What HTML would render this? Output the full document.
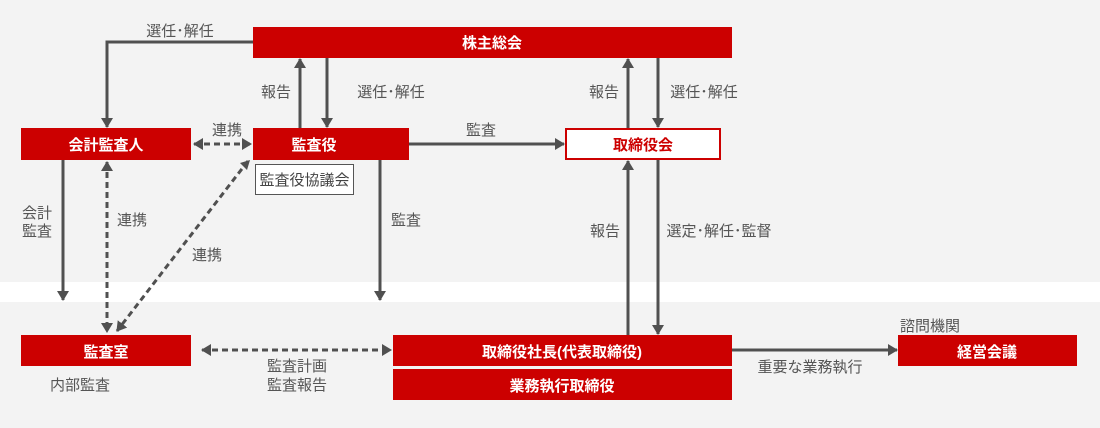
<!DOCTYPE html>
<html><head><meta charset="utf-8"><style>
html,body{margin:0;padding:0;background:#fff}
svg{display:block}
text{font-family:"Liberation Sans","Noto Sans CJK JP",sans-serif;font-size:15px;fill:#555}
.w{fill:#fff;font-weight:bold;font-size:15px}
</style></head><body>
<svg width="1100" height="428" viewBox="0 0 1100 428" xmlns="http://www.w3.org/2000/svg">
<defs>
<marker id="a" markerWidth="10" markerHeight="12" refX="9" refY="6" orient="auto" markerUnits="userSpaceOnUse"><path d="M0,0 L10,6 L0,12 z" fill="#505050"/></marker>
<marker id="s" markerWidth="10" markerHeight="12" refX="1" refY="6" orient="auto" markerUnits="userSpaceOnUse"><path d="M10,0 L0,6 L10,12 z" fill="#505050"/></marker>
</defs>
<rect x="0" y="0" width="1100" height="282" fill="#f3f3f3"/>
<rect x="0" y="302" width="1100" height="126" fill="#f3f3f3"/>
<g stroke="#505050" stroke-width="3" fill="none">
<path d="M253,42 H107 V127" marker-end="url(#a)"/>
<path d="M300,128 V59" marker-end="url(#a)"/>
<path d="M327,58 V127" marker-end="url(#a)"/>
<path d="M628,128 V59" marker-end="url(#a)"/>
<path d="M658,58 V127" marker-end="url(#a)"/>
<path d="M409,144 H564" marker-end="url(#a)"/>
<path d="M63,160 V300" marker-end="url(#a)"/>
<path d="M380,160 V300" marker-end="url(#a)"/>
<path d="M628,335 V161" marker-end="url(#a)"/>
<path d="M658,160 V334" marker-end="url(#a)"/>
<path d="M732,350 H897" marker-end="url(#a)"/>
<g stroke-dasharray="6,4">
<path d="M194,144 H251" marker-start="url(#s)" marker-end="url(#a)"/>
<path d="M107,162 V332" marker-start="url(#s)" marker-end="url(#a)"/>
<path d="M248,161 L117,331" marker-end="url(#a)"/>
<path d="M202,350 H391" marker-start="url(#s)" marker-end="url(#a)"/>
</g>
</g>
<path d="M250,160 L240,163 L247,170 z" fill="#505050"/>
<rect x="253" y="27" width="479" height="31" fill="#cc0000"/>
<text x="492" y="48" class="w" text-anchor="middle">株主総会</text>
<rect x="21" y="128" width="170" height="32" fill="#cc0000"/>
<text x="106" y="150" class="w" text-anchor="middle">会計監査人</text>
<rect x="253" y="128" width="156" height="32" fill="#cc0000"/>
<text x="314" y="150" class="w" text-anchor="middle">監査役</text>
<rect x="255.5" y="164.5" width="98" height="30" fill="#fff" stroke="#555" stroke-width="1"/>
<text x="304.5" y="185" text-anchor="middle" style="font-size:15px;fill:#444">監査役協議会</text>
<rect x="566" y="129" width="154" height="30" fill="#fff" stroke="#cc0000" stroke-width="2"/>
<text x="643" y="150" text-anchor="middle" style="fill:#cc0000;font-weight:bold">取締役会</text>
<rect x="21" y="335" width="170" height="31" fill="#cc0000"/>
<text x="106" y="357" class="w" text-anchor="middle">監査室</text>
<rect x="393" y="335" width="339" height="31" fill="#cc0000"/>
<text x="562" y="357" class="w" text-anchor="middle">取締役社長(代表取締役)</text>
<rect x="393" y="369" width="339" height="31" fill="#cc0000"/>
<text x="562" y="391" class="w" text-anchor="middle">業務執行取締役</text>
<rect x="898" y="335" width="179" height="31" fill="#cc0000"/>
<text x="987" y="357" class="w" text-anchor="middle">経営会議</text>
<text x="180" y="36" text-anchor="middle">選任･解任</text>
<text x="276" y="97" text-anchor="middle">報告</text>
<text x="391" y="97" text-anchor="middle">選任･解任</text>
<text x="604" y="97" text-anchor="middle">報告</text>
<text x="704" y="97" text-anchor="middle">選任･解任</text>
<text x="227" y="135" text-anchor="middle">連携</text>
<text x="481" y="135" text-anchor="middle">監査</text>
<text x="37" y="218" text-anchor="middle">会計</text>
<text x="37" y="236" text-anchor="middle">監査</text>
<text x="132" y="225" text-anchor="middle">連携</text>
<text x="207" y="260" text-anchor="middle">連携</text>
<text x="406" y="225" text-anchor="middle">監査</text>
<text x="605" y="236" text-anchor="middle">報告</text>
<text x="719" y="236" text-anchor="middle">選定･解任･監督</text>
<text x="930" y="331" text-anchor="middle">諮問機関</text>
<text x="80" y="390" text-anchor="middle">内部監査</text>
<text x="297" y="371" text-anchor="middle">監査計画</text>
<text x="297" y="390" text-anchor="middle">監査報告</text>
<text x="810" y="372" text-anchor="middle">重要な業務執行</text>
</svg>
</body></html>
